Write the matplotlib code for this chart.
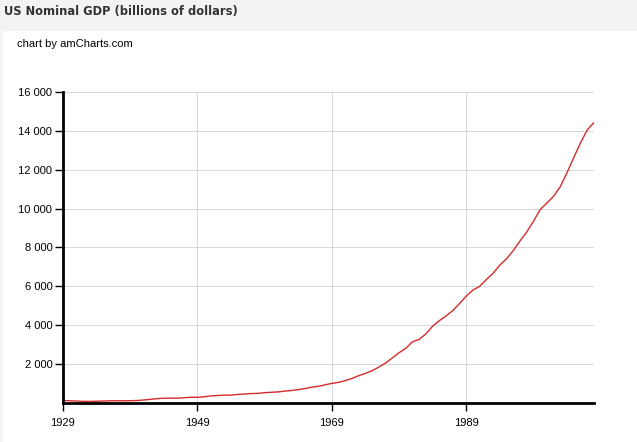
import matplotlib
matplotlib.use("Agg")
import matplotlib.pyplot as plt
from matplotlib.patches import Rectangle

# US nominal GDP, billions of dollars
years = list(range(1929, 2009))
gdp = [103.6, 91.2, 76.5, 58.7, 56.4, 66.0, 73.3, 83.8, 91.9, 86.1,
       92.2, 101.4, 126.7, 161.9, 198.6, 219.8, 223.0, 222.2, 244.1, 269.1,
       267.2, 293.7, 339.3, 358.3, 379.3, 380.4, 414.7, 437.4, 461.1, 467.2,
       506.6, 526.4, 544.8, 585.7, 617.8, 663.6, 719.1, 787.8, 832.6, 910.0,
       984.6, 1038.5, 1127.1, 1238.3, 1382.7, 1500.0, 1638.3, 1825.3, 2030.9, 2294.7,
       2563.3, 2789.5, 3128.4, 3255.0, 3536.7, 3933.2, 4220.3, 4462.8, 4739.5, 5103.8,
       5484.4, 5800.5, 5992.1, 6342.3, 6667.4, 7085.2, 7414.7, 7838.5, 8332.4, 8793.5,
       9353.5, 9951.5, 10286.2, 10642.3, 11142.1, 11867.8, 12638.4, 13398.9, 14061.8, 14441.4]
y_ticks = [2000, 4000, 6000, 8000, 10000, 12000, 14000, 16000]
x_ticks = [1929, 1949, 1969, 1989]

W, H = 637, 442
fig = plt.figure(figsize=(W / 100, H / 100), dpi=100)
fig.patch.set_facecolor("#f3f3f1")
fig.patches.append(Rectangle((3 / W, 0), 1, (H - 31) / H, transform=fig.transFigure,
                             facecolor="white", edgecolor="none", zorder=-5))

fig.text(4 / W, 1 - 12 / H, "US Nominal GDP (billions of dollars)", fontsize=8.3,
         fontweight="bold", color="#333333", va="center", ha="left", family="DejaVu Sans")
fig.text(17 / W, 1 - 44 / H, "chart by amCharts.com", fontsize=8, color="#000000",
         va="center", ha="left", family="Liberation Sans")

left, right, top, bottom = 62.7, 594, 92.3, 402.5
ax = fig.add_axes([left / W, 1 - bottom / H, (right - left) / W, (bottom - top) / H])
ax.set_facecolor("white")

ax.plot(years, gdp, color="#d42a2a", lw=1.0, zorder=3)

ax.set_xlim(1929, 2008)
ax.set_ylim(0, 16000)
ax.set_xticks(x_ticks)
ax.set_xticklabels([str(t) for t in x_ticks])
ax.set_yticks(y_ticks)
ax.set_yticklabels([f"{t:,}".replace(",", " ") for t in y_ticks])

ax.grid(True, color="#d8d8d8", lw=0.7)
for s in ["top", "right"]:
    ax.spines[s].set_visible(False)
for s in ["left", "bottom"]:
    ax.spines[s].set_linewidth(2)
    ax.spines[s].set_color("black")
    ax.spines[s].set_zorder(4)

ax.tick_params(axis="both", direction="out", length=5.5, width=1, color="black",
               labelsize=8, labelcolor="#000000")
ax.tick_params(axis="x", pad=6)
ax.tick_params(axis="y", pad=2)
for lab in ax.get_xticklabels() + ax.get_yticklabels():
    lab.set_family("Liberation Sans")

fig.savefig("out.png", dpi=100, facecolor=fig.get_facecolor())
